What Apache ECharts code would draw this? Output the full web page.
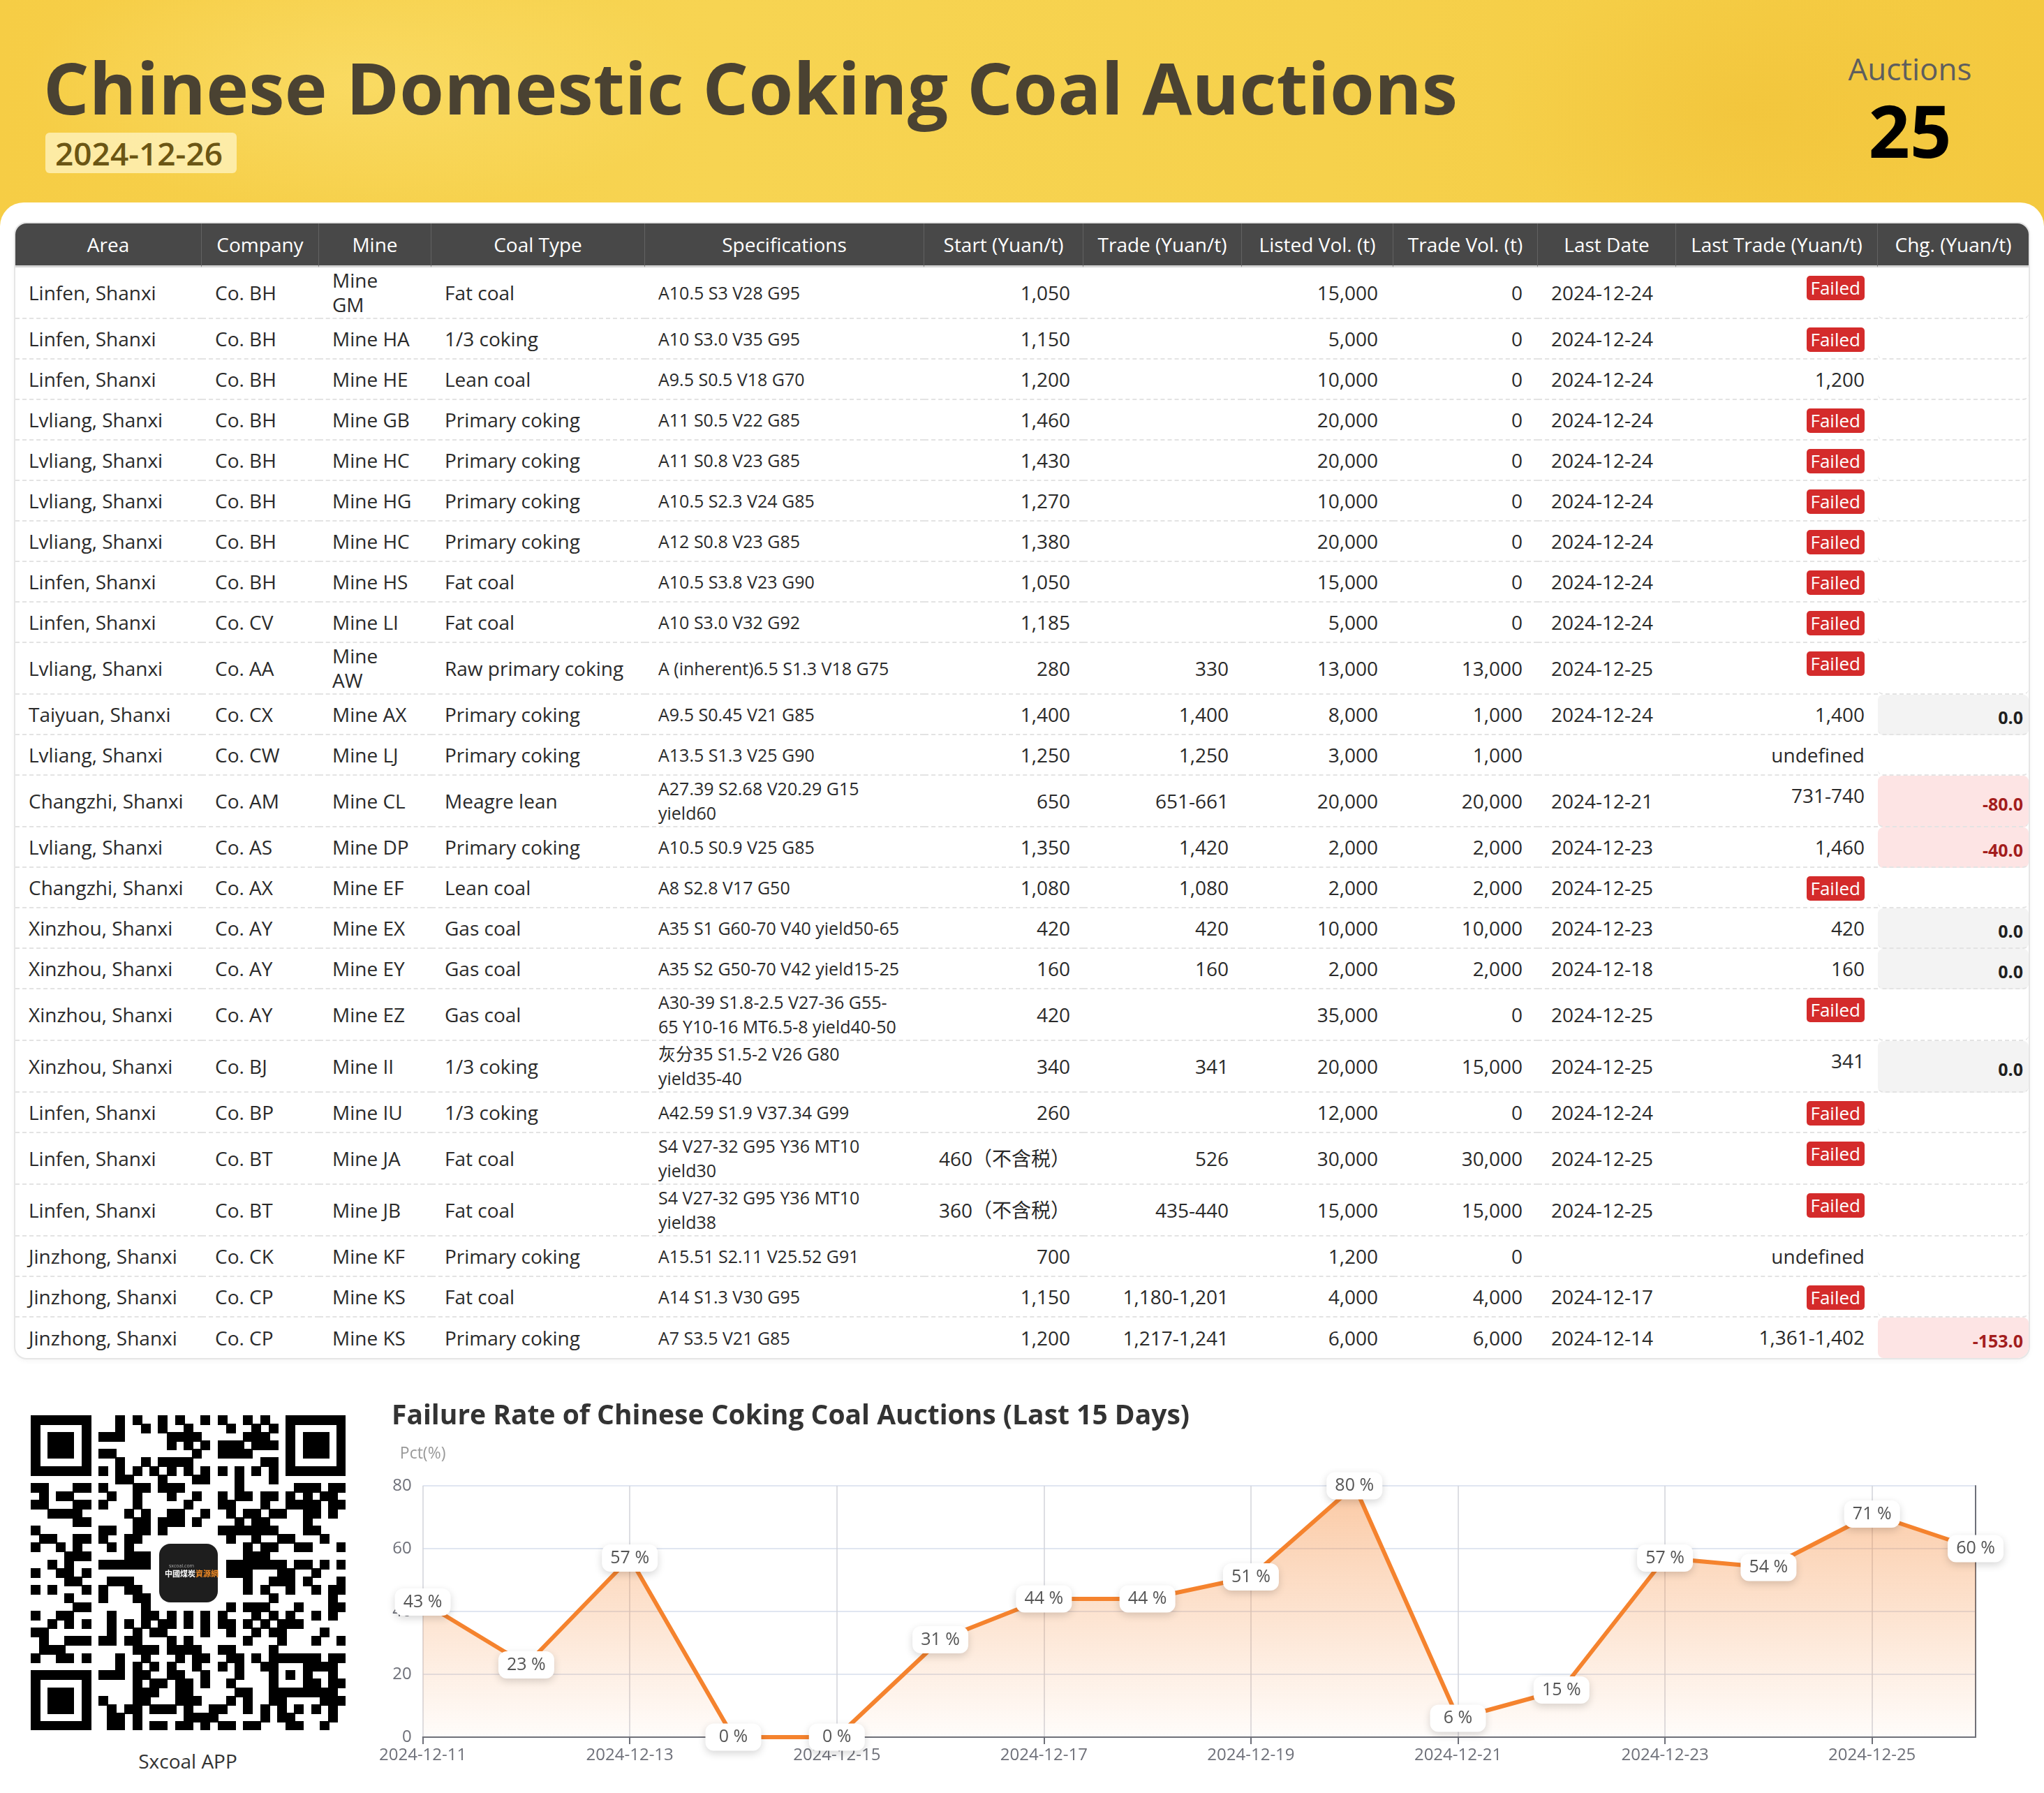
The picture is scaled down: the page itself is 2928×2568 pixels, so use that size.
<!DOCTYPE html>
<html>
<head>
<meta charset="utf-8">
<script src="https://cdn.jsdelivr.net/npm/echarts@6/dist/echarts.min.js"></script>
<style>
html,body{margin:0;padding:0;}
body{width:2928px;height:2568px;position:relative;overflow:hidden;background:#fff;font-family:"Open Sans","Noto Sans CJK SC",sans-serif;}
#band{position:absolute;left:0;top:0;width:2928px;height:340px;
  background:
   radial-gradient(ellipse 700px 260px at 520px 120px, rgba(255,236,140,0.35), rgba(255,236,140,0) 70%),
   radial-gradient(ellipse 500px 300px at 2500px 160px, rgba(236,180,40,0.25), rgba(236,180,40,0) 70%),
   linear-gradient(90deg,#F6CD45 0%,#F7D452 35%,#F6D14C 65%,#F4C93F 100%);}
#card{position:absolute;left:0;top:290px;width:2928px;height:2278px;background:#fff;border-radius:34px 34px 0 0;}
#title{position:absolute;left:62px;top:73px;font-size:103px;line-height:103px;font-weight:700;color:#4a4232;white-space:nowrap;letter-spacing:0.2px;}
#date{position:absolute;left:65px;top:190px;height:58px;line-height:58px;padding:0 20px 0 14px;font-size:46px;font-weight:600;color:#6b5614;background:rgba(255,244,196,0.75);border-radius:6px;}
#auc{position:absolute;left:2536px;width:400px;top:76px;text-align:center;font-size:44px;line-height:44px;color:#5e5e5e;}
#cnt{position:absolute;left:2536px;width:400px;top:134px;text-align:center;font-size:104px;line-height:104px;font-weight:700;color:#000;}
#wrap{position:absolute;left:22px;top:320px;width:2884px;border-radius:16px;overflow:hidden;box-shadow:0 0 0 2px #e6e6e6, 0 3px 8px rgba(0,0,0,0.06);}
table{width:2884px;border-collapse:separate;border-spacing:0;table-layout:fixed;}
th{height:60px;padding:0;background:#484848;color:#fff;font-size:28px;font-weight:400;border-right:1px solid #626262;border-bottom:3px solid #d4d4d4;text-align:center;white-space:nowrap;}
th:last-child{border-right:none;}
tr.r{height:58px;}
td{font-size:28px;color:#2a2a2a;line-height:35px;padding:1px 19px;border-bottom:2px dashed #e3e3e3;vertical-align:middle;}
tr:last-child td{border-bottom:none;}
td.l{text-align:left;}
td.rt{text-align:right;}
td.spec{font-size:25px;padding-right:31px;}
td.last{vertical-align:top;padding-top:11px;text-align:right;}
td.chg{text-align:right;padding-right:8px;padding-top:9px;font-size:25px;font-weight:700;border-radius:8px;}
td.chg.z{background:#f3f3f3;color:#1f1f1f;}
td.chg.n{background:#fde4e4;color:#a31d1d;}
.fail{display:inline-block;background:#d42b2b;color:#fff;font-size:26px;line-height:35px;height:35px;padding:0 6px;border-radius:5px;}
#qr{position:absolute;left:44px;top:2027px;}
#app{position:absolute;left:69px;width:400px;top:2502px;text-align:center;font-size:28px;line-height:40px;color:#333;}
#chart{position:absolute;left:540px;top:1990px;width:2388px;height:578px;}
</style>
</head>
<body>
<div id="band"></div>
<div id="card"></div>
<div id="title">Chinese Domestic Coking Coal Auctions</div>
<div id="date">2024-12-26</div>
<div id="auc">Auctions</div>
<div id="cnt">25</div>
<div id="wrap"><table id="tbl"></table></div>
<canvas id="qr" width="451" height="451"></canvas>
<div id="app">Sxcoal APP</div>
<div id="chart"></div>
<script>
// ---------- table data ----------
const headers = ['Area','Company','Mine','Coal Type','Specifications','Start (Yuan/t)','Trade (Yuan/t)','Listed Vol. (t)','Trade Vol. (t)','Last Date','Last Trade (Yuan/t)','Chg. (Yuan/t)'];
const areas = ['Linfen, Shanxi','Linfen, Shanxi','Linfen, Shanxi','Lvliang, Shanxi','Lvliang, Shanxi','Lvliang, Shanxi','Lvliang, Shanxi','Linfen, Shanxi','Linfen, Shanxi','Lvliang, Shanxi','Taiyuan, Shanxi','Lvliang, Shanxi','Changzhi, Shanxi','Lvliang, Shanxi','Changzhi, Shanxi','Xinzhou, Shanxi','Xinzhou, Shanxi','Xinzhou, Shanxi','Xinzhou, Shanxi','Linfen, Shanxi','Linfen, Shanxi','Linfen, Shanxi','Jinzhong, Shanxi','Jinzhong, Shanxi','Jinzhong, Shanxi'];
const companies = ['Co. BH','Co. BH','Co. BH','Co. BH','Co. BH','Co. BH','Co. BH','Co. BH','Co. CV','Co. AA','Co. CX','Co. CW','Co. AM','Co. AS','Co. AX','Co. AY','Co. AY','Co. AY','Co. BJ','Co. BP','Co. BT','Co. BT','Co. CK','Co. CP','Co. CP'];
const mines = ['Mine GM','Mine HA','Mine HE','Mine GB','Mine HC','Mine HG','Mine HC','Mine HS','Mine LI','Mine AW','Mine AX','Mine LJ','Mine CL','Mine DP','Mine EF','Mine EX','Mine EY','Mine EZ','Mine II','Mine IU','Mine JA','Mine JB','Mine KF','Mine KS','Mine KS'];
const coalTypes = ['Fat coal','1/3 coking','Lean coal','Primary coking','Primary coking','Primary coking','Primary coking','Fat coal','Fat coal','Raw primary coking','Primary coking','Primary coking','Meagre lean','Primary coking','Lean coal','Gas coal','Gas coal','Gas coal','1/3 coking','1/3 coking','Fat coal','Fat coal','Primary coking','Fat coal','Primary coking'];
const specs = ['A10.5 S3 V28 G95','A10 S3.0 V35 G95','A9.5 S0.5 V18 G70','A11 S0.5 V22 G85','A11 S0.8 V23 G85','A10.5 S2.3 V24 G85','A12 S0.8 V23 G85','A10.5 S3.8 V23 G90','A10 S3.0 V32 G92','A (inherent)6.5 S1.3 V18 G75','A9.5 S0.45 V21 G85','A13.5 S1.3 V25 G90','A27.39 S2.68 V20.29 G15 yield60','A10.5 S0.9 V25 G85','A8 S2.8 V17 G50','A35 S1 G60-70 V40 yield50-65','A35 S2 G50-70 V42 yield15-25','A30-39 S1.8-2.5 V27-36 G55-65 Y10-16 MT6.5-8 yield40-50','灰分35 S1.5-2 V26 G80 yield35-40','A42.59 S1.9 V37.34 G99','S4 V27-32 G95 Y36 MT10 yield30','S4 V27-32 G95 Y36 MT10 yield38','A15.51 S2.11 V25.52 G91','A14 S1.3 V30 G95','A7 S3.5 V21 G85'];
const startPrices = ['1,050','1,150','1,200','1,460','1,430','1,270','1,380','1,050','1,185','280','1,400','1,250','650','1,350','1,080','420','160','420','340','260','460（不含税）','360（不含税）','700','1,150','1,200'];
const tradePrices = ['','','','','','','','','','330','1,400','1,250','651-661','1,420','1,080','420','160','','341','','526','435-440','','1,180-1,201','1,217-1,241'];
const listedVols = ['15,000','5,000','10,000','20,000','20,000','10,000','20,000','15,000','5,000','13,000','8,000','3,000','20,000','2,000','2,000','10,000','2,000','35,000','20,000','12,000','30,000','15,000','1,200','4,000','6,000'];
const tradeVols = ['0','0','0','0','0','0','0','0','0','13,000','1,000','1,000','20,000','2,000','2,000','10,000','2,000','0','15,000','0','30,000','15,000','0','4,000','6,000'];
const lastDates = ['2024-12-24','2024-12-24','2024-12-24','2024-12-24','2024-12-24','2024-12-24','2024-12-24','2024-12-24','2024-12-24','2024-12-25','2024-12-24','','2024-12-21','2024-12-23','2024-12-25','2024-12-23','2024-12-18','2024-12-25','2024-12-25','2024-12-24','2024-12-25','2024-12-25','','2024-12-17','2024-12-14'];
const lastTrades = ['Failed','Failed','1,200','Failed','Failed','Failed','Failed','Failed','Failed','Failed','1,400','undefined','731-740','1,460','Failed','420','160','Failed','341','Failed','Failed','Failed','undefined','Failed','1,361-1,402'];
const changes = ['','','','','','','','','','','0.0','','-80.0','-40.0','','0.0','0.0','','0.0','','','','','','-153.0'];

// ---------- chart data ----------
const chartDates = ['2024-12-11','2024-12-12','2024-12-13','2024-12-14','2024-12-15','2024-12-16','2024-12-17','2024-12-18','2024-12-19','2024-12-20','2024-12-21','2024-12-22','2024-12-23','2024-12-24','2024-12-25','2024-12-26'];
const failureRates = [43,23,57,0,0,31,44,44,51,80,6,15,57,54,71,60];
const yTicks = {min:0,max:80,interval:20};

// ---------- build table ----------
const colW = [267,168,161,306,400,228,227,217,207,198,289,216];
// Mine column: the reference wraps "Mine GM" and "Mine AW" only; size the text box between them
const mctx = document.createElement('canvas').getContext('2d');
mctx.font = '28px "Open Sans"';
const wrapMines = ['Mine GM','Mine AW'];
let maxKeep = 0, minWrap = 1e9;
mines.forEach(m => { const w = mctx.measureText(m).width; if (wrapMines.includes(m)) minWrap = Math.min(minWrap, w); else maxKeep = Math.max(maxKeep, w); });
const mineContent = (maxKeep + minWrap) / 2;
const minePadR = Math.max(4, colW[2] - 19 - mineContent);

const esc = s => String(s).replace(/&/g,'&amp;').replace(/</g,'&lt;');
let h = '<colgroup>' + colW.map(w=>'<col style="width:'+w+'px">').join('') + '</colgroup>';
h += '<tr>' + headers.map(x=>'<th>'+esc(x)+'</th>').join('') + '</tr>';
for (let i=0;i<areas.length;i++){
  const lt = lastTrades[i]==='Failed' ? '<span class="fail">Failed</span>' : esc(lastTrades[i]);
  const c = changes[i];
  const chgCls = c==='' ? 'chg' : (parseFloat(c)<0 ? 'chg n' : 'chg z');
  h += '<tr class="r">'
    + '<td class="l">'+esc(areas[i])+'</td>'
    + '<td class="l">'+esc(companies[i])+'</td>'
    + '<td class="l" style="padding-right:'+minePadR.toFixed(1)+'px">'+esc(mines[i])+'</td>'
    + '<td class="l">'+esc(coalTypes[i])+'</td>'
    + '<td class="l spec">'+esc(specs[i])+'</td>'
    + '<td class="rt">'+esc(startPrices[i])+'</td>'
    + '<td class="rt">'+esc(tradePrices[i])+'</td>'
    + '<td class="rt" style="padding-right:22px">'+esc(listedVols[i])+'</td>'
    + '<td class="rt" style="padding-right:22px">'+esc(tradeVols[i])+'</td>'
    + '<td class="l">'+esc(lastDates[i])+'</td>'
    + '<td class="last">'+lt+'</td>'
    + '<td class="'+chgCls+'">'+esc(c)+'</td>'
    + '</tr>';
}
document.getElementById('tbl').innerHTML = h;

// ---------- QR decoration ----------
(function(){
  const cv = document.getElementById('qr'), g = cv.getContext('2d');
  const N = 37, m = 451/N;
  g.fillStyle='#fff'; g.fillRect(0,0,451,451);
  const grid = [];
  for (let r=0;r<N;r++){ grid.push([]); for (let c=0;c<N;c++){ grid[r].push(((r*31 + c*17 + (r*c)%7 + (r^c)) % 5) < 2 ? 1:0); } }
  function finder(r0,c0){
    for (let r=-1;r<=7;r++) for (let c=-1;c<=7;c++){
      const rr=r0+r, cc=c0+c; if (rr<0||cc<0||rr>=N||cc>=N) continue;
      let v=0;
      if (r>=0&&r<=6&&c>=0&&c<=6){ v = (r===0||r===6||c===0||c===6||(r>=2&&r<=4&&c>=2&&c<=4))?1:0; }
      grid[rr][cc]=v;
    }
  }
  finder(0,0); finder(0,30); finder(30,0);
  for (let i=8;i<29;i++){ grid[6][i]=i%2===0?1:0; grid[i][6]=i%2===0?1:0; }
  for (let r=-2;r<=2;r++) for (let c=-2;c<=2;c++){ grid[30+r][30+c] = (Math.max(Math.abs(r),Math.abs(c))!==1)?1:0; }
  for (let r=14;r<=22;r++) for (let c=14;c<=22;c++) grid[r][c]=0;
  g.fillStyle='#000';
  for (let r=0;r<N;r++) for (let c=0;c<N;c++) if (grid[r][c]) g.fillRect(Math.floor(c*m),Math.floor(r*m),Math.ceil(m)+1,Math.ceil(m)+1);
  const lx=184, ly=184, ls=84;
  g.fillStyle='#1e1e1e';
  g.beginPath(); if (g.roundRect) g.roundRect(lx,ly,ls,ls,16); else g.rect(lx,ly,ls,ls); g.fill();
  g.fillStyle='#fff'; g.font='bold 11px "Noto Sans CJK SC"'; g.fillText('中國煤炭',lx+8,ly+47);
  g.fillStyle='#f08a24'; g.fillText('資源網',lx+52,ly+47);
  g.fillStyle='#aaa'; g.font='7px "Open Sans"'; g.fillText('sxcoal.com',lx+14,ly+34);
})();

// ---------- chart ----------
const chart = echarts.init(document.getElementById('chart'));
const FF = '"Open Sans","Noto Sans CJK SC",sans-serif';
chart.setOption({
  animation:false,
  textStyle:{fontFamily:FF},
  title:{text:'Failure Rate of Chinese Coking Coal Auctions (Last 15 Days)',left:16,top:14,
    textStyle:{fontSize:39,fontWeight:'bold',color:'#333',fontFamily:FF}},
  grid:{left:65,right:98,top:138,bottom:80},
  xAxis:{type:'category',boundaryGap:false,data:chartDates,
    axisLine:{lineStyle:{color:'#6E7079',width:2}},
    axisTick:{show:true,interval:1,length:10,lineStyle:{width:2}},
    axisLabel:{interval:1,fontSize:24,color:'#6E7079',margin:14,fontFamily:FF},
    splitLine:{show:true,interval:1,lineStyle:{color:'#d2d3da',width:1.5}}},
  yAxis:[
    {type:'value',min:yTicks.min,max:yTicks.max,interval:yTicks.interval,name:'Pct(%)',nameGap:34,
     nameTextStyle:{fontSize:23,color:'#999',fontFamily:FF},
     axisLabel:{fontSize:24,color:'#6E7079',margin:16,fontFamily:FF},
     splitLine:{lineStyle:{color:'#E0E6F1',width:2}}},
    {type:'value',position:'right',min:yTicks.min,max:yTicks.max,interval:yTicks.interval,
     axisLine:{show:true,lineStyle:{color:'#6E7079',width:2}},axisLabel:{show:false},axisTick:{show:false},splitLine:{show:false}}
  ],
  series:[{type:'line',data:failureRates,symbol:'circle',symbolSize:6,z:3,
    itemStyle:{color:'#F5832E'},
    lineStyle:{width:6,color:'#F5832E'},
    areaStyle:{color:{type:'linear',x:0,y:0,x2:0,y2:1,colorStops:[
      {offset:0,color:'rgba(245,131,46,0.62)'},{offset:1,color:'rgba(245,131,46,0.03)'}]}},
    label:{show:true,position:'inside',formatter:'{c} %',fontSize:25,color:'#555',fontFamily:FF,
      backgroundColor:'#fff',width:56,align:'center',lineHeight:25,padding:[7,12],borderRadius:12,
      shadowBlur:12,shadowColor:'rgba(0,0,0,0.16)',shadowOffsetY:4}
  }]
});
</script>
</body>
</html>
